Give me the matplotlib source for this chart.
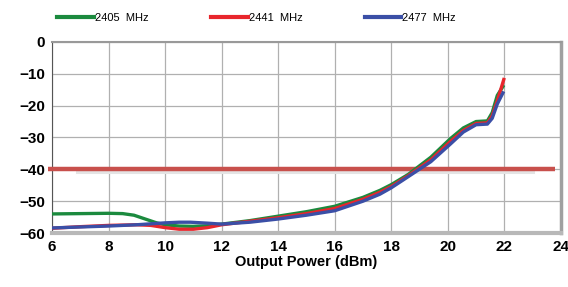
import numpy as np
import matplotlib
matplotlib.use("Agg")
import matplotlib.pyplot as plt

# ---- data ----
x_2405 = [6, 7, 8, 8.5, 8.9, 9.3, 9.7, 10, 10.5, 11, 11.5, 12, 13, 14, 15, 16, 17,
          17.6, 18, 18.6, 19.4, 20.1, 20.55, 21.0, 21.4, 21.57, 21.75, 21.95]
y_2405 = [-54.0, -53.9, -53.8, -53.9, -54.4, -55.6, -56.8, -57.4, -57.8, -57.9, -57.7,
          -57.2, -56.1, -54.7, -53.3, -51.6, -48.8, -46.6, -44.8, -41.6, -36.2, -30.3,
          -27.0, -25.0, -24.8, -22.2, -16.8, -14.0]

x_2441 = [6, 7, 8, 9, 9.5, 10, 10.5, 11, 11.5, 12, 13, 14, 15, 16, 17, 17.6, 18,
          18.6, 19.4, 20.1, 20.55, 21.0, 21.4, 21.57, 21.75, 21.98]
y_2441 = [-58.5, -58.0, -57.6, -57.4, -57.6, -58.3, -58.8, -58.8, -58.3, -57.4, -56.3,
          -55.2, -53.9, -52.3, -49.4, -47.2, -45.4, -42.0, -37.0, -31.2, -27.8, -25.6,
          -25.4, -23.2, -18.5, -11.8]

x_2477 = [6, 7, 8, 9, 9.5, 10, 10.5, 10.9, 11.5, 12, 13, 14, 15, 16, 17, 17.6, 18,
          18.6, 19.4, 20.1, 20.55, 21.0, 21.4, 21.57, 21.75, 21.95]
y_2477 = [-58.4, -58.1, -57.8, -57.4, -57.1, -56.8, -56.6, -56.6, -56.9, -57.2, -56.6,
          -55.6, -54.4, -53.0, -50.0, -47.8, -45.8, -42.3, -37.6, -32.0, -28.3, -26.0,
          -25.8, -24.0, -19.5, -16.0]

limit_db = -40
x_ticks = [6, 8, 10, 12, 14, 16, 18, 20, 22, 24]
y_ticks = [0, -10, -20, -30, -40, -50, -60]

plt.rcParams['font.family'] = ['Liberation Sans Narrow', 'Liberation Sans', 'DejaVu Sans']

fig = plt.figure(figsize=(5.68, 2.87), dpi=100)
ax = fig.add_axes([0.0915, 0.188, 0.896, 0.666])

# limit line with its soft shadow
ax.plot([6.9, 23.0], [limit_db - 0.9, limit_db - 0.9], color='#e4e4e4', lw=2.2, zorder=2)
ax.plot([5.85, 23.8], [limit_db, limit_db], color='#c8504c', lw=3.2,
        clip_on=False, zorder=3, solid_capstyle='butt')

l1, = ax.plot(x_2405, y_2405, color='#1b8a3e', lw=2.4, zorder=4)
l2, = ax.plot(x_2441, y_2441, color='#e8262c', lw=2.4, zorder=5)
l3, = ax.plot(x_2477, y_2477, color='#3b4fa6', lw=2.4, zorder=6)

ax.set_xlim(6, 24)
ax.set_ylim(-60, 0)
ax.set_xticks(x_ticks)
ax.set_yticks(y_ticks)
ax.grid(True, color='#b0b0b0', lw=0.9)
ax.set_axisbelow(True)
ax.tick_params(length=0, labelsize=11, pad=5)
for lab in ax.get_xticklabels() + ax.get_yticklabels():
    lab.set_fontweight('bold')

ax.spines['top'].set_color('#999999')
ax.spines['top'].set_linewidth(1.5)
ax.spines['left'].set_color('#555555')
ax.spines['left'].set_linewidth(0.8)
ax.spines['bottom'].set_color('#b8b8b8')
ax.spines['bottom'].set_linewidth(3)
ax.spines['right'].set_color('#a0a0a0')
ax.spines['right'].set_linewidth(2.5)

ax.set_xlabel('Output Power (dBm)', fontsize=10.5, fontweight='bold', labelpad=1)

leg = fig.legend([l1, l2, l3], ['2405  MHz', '2441  MHz', '2477  MHz'],
                 loc='upper center', bbox_to_anchor=(0.452, 0.99), ncol=3, frameon=False,
                 fontsize=8, handlelength=3.3, handletextpad=0.1, columnspacing=5.6)
for h in leg.get_lines():
    h.set_linewidth(3)

fig.savefig('out.png', dpi=100)
